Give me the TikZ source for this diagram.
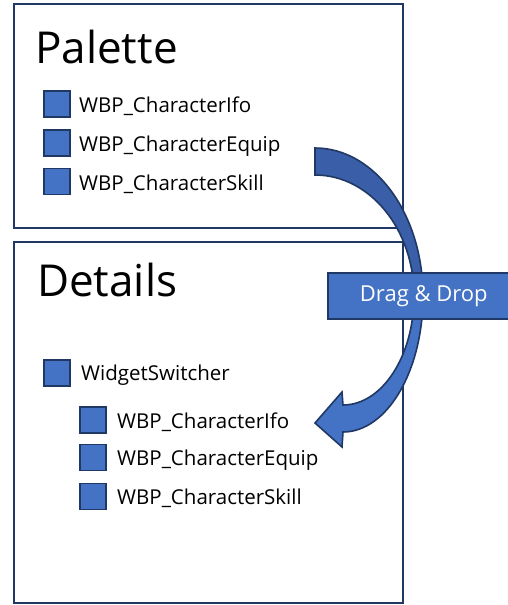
\documentclass[tikz,border=0pt]{standalone}
\usepackage{fontspec}
\setmainfont{Open Sans}
\definecolor{navy}{HTML}{203864}
\definecolor{boxblue}{HTML}{4472C4}
\definecolor{darkblue}{HTML}{3A5FA8}
\tikzset{
  panel/.style={draw=navy, line width=2pt, fill=white},
  sq/.style={draw=navy, line width=1.6pt, fill=boxblue, minimum size=26pt, inner sep=0pt},
  item/.style={anchor=base west, inner sep=0pt, font=\fontsize{20.5}{24}\selectfont},
  title/.style={anchor=base west, inner sep=0pt, font=\fontsize{44}{50}\selectfont},
  arrowpart/.style={draw=navy, line width=1.6pt, line join=miter},
  tagbox/.style={draw=navy, line width=1.6pt, fill=boxblue, text=white, font=\fontsize{22}{26}\selectfont}
}
\begin{document}
\begin{tikzpicture}[x=1pt,y=-1pt]
\useasboundingbox (0,0) rectangle (508,605);
\clip (0,0) rectangle (508,605);
% panels
\draw[panel] (14,4) rectangle (403,228);
\draw[panel] (14,242) rectangle (403,603);
% titles
\node[title] (pal) at (35,63) {Palette};
\node[title] (det) at (37,296) {Details};
% palette items
\node[sq] (p1) at (57,104) {};
\node[sq] (p2) at (57,143) {};
\node[sq] (p3) at (57,181.5) {};
\node[item] (pt1) at (79,112.5) {WBP\_CharacterIfo};
\node[item] (pt2) at (79,151.5) {WBP\_CharacterEquip};
\node[item] (pt3) at (79,190) {WBP\_CharacterSkill};
% details items
\node[sq] (ws) at (57,373) {};
\node[item] (wst) at (81,380.5) {WidgetSwitcher};
\node[sq] (d1) at (93,420) {};
\node[sq] (d2) at (93,457.5) {};
\node[sq] (d3) at (93,496.5) {};
\node[item] (dt1) at (117,428) {WBP\_CharacterIfo};
\node[item] (dt2) at (117,465.5) {WBP\_CharacterEquip};
\node[item] (dt3) at (117,504.5) {WBP\_CharacterSkill};
% curved arrow: upper (darker) part
\filldraw[arrowpart, fill=darkblue]
  (315,148) .. controls (374.6,148) and (423,214) .. (423,296)
  -- (414,296) .. controls (414,229) and (369.6,175) .. (315,175) -- cycle;
% lower part with head
\filldraw[arrowpart, fill=boxblue]
  (423,296) .. controls (423,371) and (387,432) .. (343,432)
  -- (342,447) -- (315,423) -- (342,392) -- (343,405)
  .. controls (382,405) and (414,356) .. (414,296) -- cycle;
% label box
\node[tagbox, minimum width=192pt, minimum height=46pt, anchor=west] (dd) at (327,296) {Drag \& Drop};
\end{tikzpicture}
\end{document}
